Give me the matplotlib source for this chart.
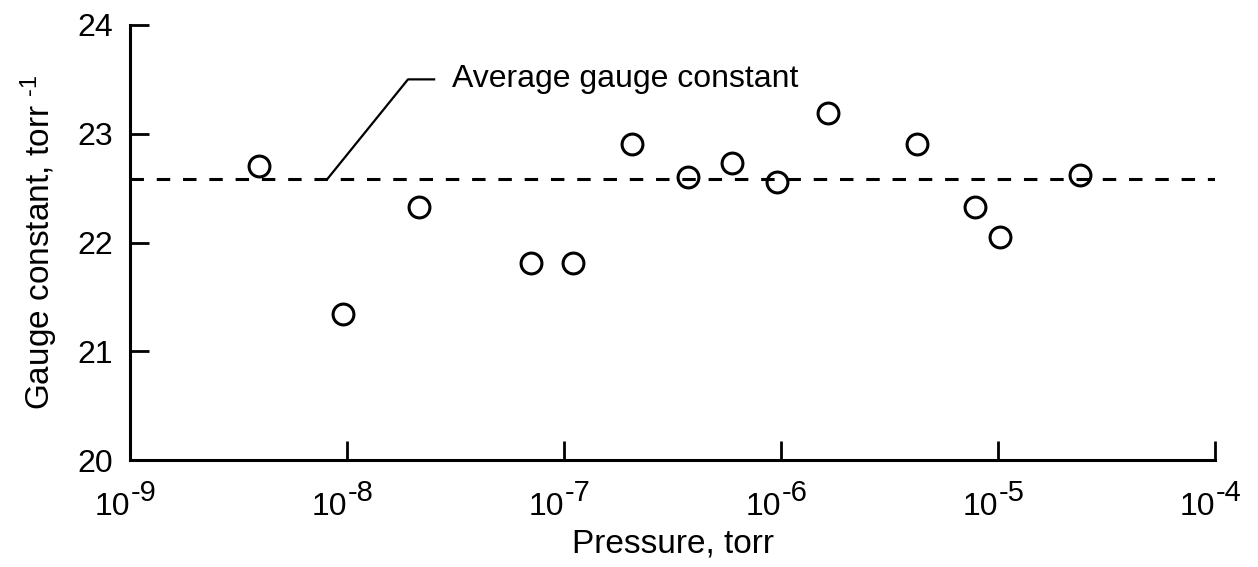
import matplotlib
matplotlib.use("Agg")
import matplotlib.pyplot as plt
from matplotlib.transforms import offset_copy
import numpy as np

plt.rcParams['font.family'] = ['Liberation Sans', 'DejaVu Sans']
plt.rcParams['mathtext.fontset'] = 'custom'
plt.rcParams['mathtext.rm'] = 'Liberation Sans'
plt.rcParams['mathtext.it'] = 'Liberation Sans'
plt.rcParams['mathtext.bf'] = 'Liberation Sans'

# Data
pressure_torr = [3.93e-9, 9.6e-9, 2.15e-8, 7.05e-8, 1.10e-7, 2.06e-7, 3.72e-7,
                 5.94e-7, 9.6e-7, 1.65e-6, 4.24e-6, 7.83e-6, 1.02e-5, 2.39e-5]
gauge_constant = [22.70, 21.34, 22.33, 21.81, 21.81, 22.91, 22.60,
                  22.73, 22.56, 23.19, 22.91, 22.33, 22.05, 22.62]
average_constant = 22.58
x_ticks = [1e-9, 1e-8, 1e-7, 1e-6, 1e-5, 1e-4]
x_tick_base = '10'
x_tick_exponents = ['-9', '-8', '-7', '-6', '-5', '-4']
y_ticks = [20, 21, 22, 23, 24]

fig = plt.figure(figsize=(12.58, 5.67), dpi=100)
ax = fig.add_axes([130/1258, 1-460/567, (1215-130)/1258, (460-25)/567])

ax.set_xscale('log')
ax.set_xlim(1e-9, 1e-4)
ax.set_ylim(20, 24)

ax.axhline(average_constant, color='black', lw=2.2, linestyle=(0, (4.4, 4.2)), zorder=2)
ax.plot(pressure_torr, gauge_constant, linestyle='none', marker='o', markersize=15,
        mfc='none', mec='black', mew=2.2, zorder=3)

# leader line for the annotation
ax.plot([8.09e-9, 1.91e-8, 2.55e-8], [average_constant, 23.50, 23.50], color='black', lw=1.6,
        solid_capstyle='butt', zorder=2)
ax.text(3.05e-8, 23.50, 'Average gauge constant', fontsize=23, va='center', ha='left')

for s in ['top', 'right']:
    ax.spines[s].set_visible(False)
for s in ['left', 'bottom']:
    ax.spines[s].set_linewidth(2.2)

ax.set_xticks(x_ticks)
ax.set_xticklabels([''] * len(x_ticks))
ax.xaxis.set_minor_locator(matplotlib.ticker.NullLocator())
ax.set_yticks(y_ticks)
ax.tick_params(axis='both', direction='in', length=14, width=2, labelsize=23)
ax.tick_params(axis='y', pad=12)

# x tick labels as "10" with a large raised exponent
xtrans = ax.get_xaxis_transform()
base_trans = offset_copy(xtrans, fig=fig, x=0, y=-55, units='dots')
exp_trans = offset_copy(xtrans, fig=fig, x=1, y=-41, units='dots')
for t, e in zip(x_ticks, x_tick_exponents):
    ax.text(t, 0, x_tick_base, transform=base_trans, ha='right', va='baseline',
            fontsize=23, clip_on=False)
    ax.text(t, 0, e, transform=exp_trans, ha='left', va='baseline',
            fontsize=21, clip_on=False)

ax.set_xlabel('Pressure, torr', fontsize=24, va='top')
ax.xaxis.set_label_coords(0.5, -0.158)
ax.set_ylabel('Gauge constant, torr $^{\u20101}$', fontsize=24, labelpad=13)

fig.savefig('out.png', dpi=100)
